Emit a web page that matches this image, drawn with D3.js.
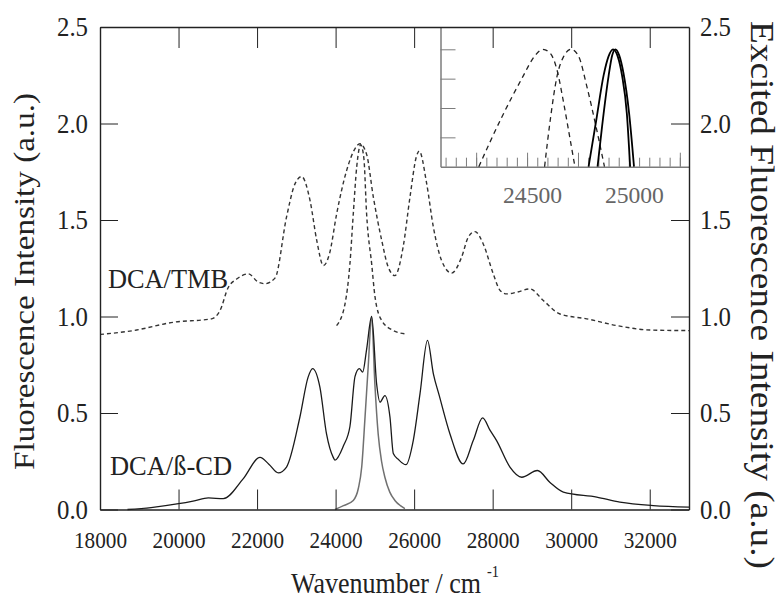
<!DOCTYPE html>
<html>
<head>
<meta charset="utf-8">
<script src="https://cdn.jsdelivr.net/npm/d3@7"></script>
<style>
  body { margin: 0; background: #fff; }
  svg { display: block; }
</style>
</head>
<body>
<svg id="chart" width="780" height="599"></svg>
<script>
// [wavenumber, intensity]
const bcdEmission = [
  [18700, 0.0], [19300, 0.01], [20000, 0.03], [20400, 0.045], [20760, 0.06], [21140, 0.056],
  [21650, 0.16], [22075, 0.27], [22300, 0.235], [22540, 0.19], [22750, 0.22], [23090, 0.478],
  [23300, 0.686], [23415, 0.73], [23600, 0.634], [23770, 0.39], [23940, 0.27], [23985, 0.256],
  [24200, 0.33], [24365, 0.43], [24495, 0.69], [24605, 0.73], [24690, 0.712], [24790, 0.83],
  [24918, 1.0], [25045, 0.65], [25130, 0.556], [25255, 0.59], [25385, 0.478], [25470, 0.29],
  [25595, 0.26], [25790, 0.232], [25980, 0.36], [26150, 0.6], [26340, 0.876], [26490, 0.703],
  [26640, 0.59], [26915, 0.39], [27250, 0.236], [27505, 0.357], [27745, 0.475], [27935, 0.41],
  [28100, 0.357], [28440, 0.22], [28740, 0.167], [29140, 0.202], [29460, 0.14], [29800, 0.09],
  [30650, 0.064], [31240, 0.038], [32090, 0.02], [33000, 0.012]
];

const bcdExcitation = [
  [23985, 0.0], [24200, 0.02], [24450, 0.047], [24580, 0.11], [24665, 0.22], [24750, 0.48],
  [24830, 0.74], [24917, 1.0], [25000, 0.65], [25085, 0.39], [25170, 0.25], [25255, 0.167],
  [25380, 0.09], [25510, 0.047], [25650, 0.02], [25765, 0.005]
];

const tmbEmission = [
  [18000, 0.907], [18850, 0.927], [19865, 0.97], [20840, 0.988], [21055, 1.03], [21265, 1.15],
  [21480, 1.194], [21775, 1.221], [22030, 1.178], [22200, 1.17], [22460, 1.2], [22750, 1.515],
  [22965, 1.687], [23135, 1.725], [23350, 1.6], [23520, 1.394], [23690, 1.264], [23850, 1.33],
  [24025, 1.53], [24280, 1.756], [24495, 1.87], [24620, 1.895], [24790, 1.84], [24960, 1.62],
  [25175, 1.394], [25340, 1.256], [25510, 1.212], [25720, 1.36], [25895, 1.62], [26060, 1.83],
  [26130, 1.857], [26320, 1.688], [26490, 1.463], [26700, 1.29], [26955, 1.225], [27210, 1.308],
  [27380, 1.412], [27550, 1.44], [27760, 1.376], [28015, 1.221], [28190, 1.135], [28360, 1.117],
  [28600, 1.125], [28950, 1.143], [29290, 1.083], [29715, 1.013], [30395, 0.988], [31160, 0.953],
  [32010, 0.93], [33000, 0.927]
];

const tmbExcitation = [
  [24025, 0.953], [24240, 1.066], [24365, 1.273], [24450, 1.531], [24540, 1.78], [24640, 1.89],
  [24720, 1.82], [24790, 1.531], [24920, 1.27], [25005, 1.1], [25175, 0.979], [25470, 0.927],
  [25765, 0.91]
];

// inset, normalised 0-0-band
const insetTmbEm = [
  [24263, 0], [24377, 0.426], [24475, 0.753], [24541, 0.951], [24577, 1.0], [24614, 0.966],
  [24647, 0.824], [24680, 0.54], [24712, 0.227], [24735, 0]
];
const insetTmbEx = [
  [24586, 0], [24614, 0.4], [24647, 0.77], [24680, 0.94], [24716, 1.0], [24753, 0.94],
  [24794, 0.68], [24835, 0.37], [24880, 0]
];
const insetBcdEm = [
  [24802, 0], [24840, 0.4], [24876, 0.78], [24900, 0.94], [24922, 1.0], [24945, 0.94],
  [24966, 0.78], [24990, 0.45], [25006, 0]
];
const insetBcdEx = [
  [24846, 0], [24868, 0.34], [24900, 0.77], [24918, 0.95], [24934, 1.0], [24952, 0.95],
  [24973, 0.8], [25001, 0.455], [25025, 0]
];

const xTicks = [18000, 20000, 22000, 24000, 26000, 28000, 30000, 32000];
const yTicks = [0, 0.5, 1.0, 1.5, 2.0, 2.5];
const insetMinor = d3.range(24100, 25300, 50);
const insetMajor = [24250, 24500, 24750, 25000, 25250];
const insetLabels = [24500, 25000];
const insetYTicks = [0.25, 0.5, 0.75, 1.0];

const plot = {left: 100, right: 689, top: 27, bottom: 509.5};
const inset = {left: 440.5, right: 689, top: 27, bottom: 166.7};
const serif = '"Liberation Serif", "Times New Roman", Times, Tinos, "Nimbus Roman", "Noto Serif", "DejaVu Serif", FreeSerif, serif';

const x = d3.scaleLinear().domain([18000, 33000]).range([plot.left, plot.right]);
const y = d3.scaleLinear().domain([0, 2.5]).range([plot.bottom, plot.top]);
const ix = d3.scaleLinear().domain([24075, 25295]).range([inset.left, inset.right]);
const iy = d3.scaleLinear().domain([0, 1.19]).range([inset.bottom, inset.top]);

const svg = d3.select('#chart').style('font-family', serif);

const line = d3.line()
    .x(d => x(d[0]))
    .y(d => y(d[1]))
    .curve(d3.curveMonotoneX);

const insetLine = d3.line()
    .x(d => ix(d[0]))
    .y(d => iy(d[1]))
    .curve(d3.curveMonotoneX);

// squeeze a text to the width it has in the figure, whatever face is picked
function fitWidth(sel, w) {
  sel.attr('textLength', w).attr('lengthAdjust', 'spacingAndGlyphs');
}

// ---- inset frame + ticks (grey)
const insetG = svg.append('g');

insetG.append('g')
    .attr('transform', `translate(0,${inset.bottom})`)
    .call(d3.axisBottom(ix).tickValues(insetMinor).tickSize(-9).tickSizeOuter(0).tickFormat(''))
    .attr('color', '#7c7c7c')
    .call(g => g.select('.domain').attr('stroke-width', 1.5));

const insetXLab = insetG.append('g')
    .attr('transform', `translate(0,${inset.bottom})`)
    .call(d3.axisBottom(ix).tickValues(insetMajor).tickSize(-14).tickSizeOuter(0).tickPadding(20)
      .tickFormat(d => insetLabels.includes(d) ? d : ''))
    .attr('color', '#7c7c7c')
    .attr('font-family', null)
    .attr('font-size', 23);
insetXLab.select('.domain').remove();
insetXLab.selectAll('text').filter(d => insetLabels.includes(d))
    .attr('fill', '#666').attr('dx', 5).call(fitWidth, 59);

insetG.append('g')
    .attr('transform', `translate(${inset.left},0)`)
    .call(d3.axisLeft(iy).tickValues(insetYTicks).tickSize(-15).tickSizeOuter(0).tickFormat(''))
    .attr('color', '#7c7c7c')
    .call(g => g.select('.domain').attr('stroke-width', 1.5));

insetG.append('path')
    .attr('d', insetLine(insetTmbEm))
    .attr('fill', 'none').attr('stroke', '#222').attr('stroke-width', 1.3)
    .attr('stroke-dasharray', '5,4');
insetG.append('path')
    .attr('d', insetLine(insetTmbEx))
    .attr('fill', 'none').attr('stroke', '#222').attr('stroke-width', 1.3)
    .attr('stroke-dasharray', '5,4');
insetG.append('path')
    .attr('d', insetLine(insetBcdEm))
    .attr('fill', 'none').attr('stroke', '#000').attr('stroke-width', 1.8);
insetG.append('path')
    .attr('d', insetLine(insetBcdEx))
    .attr('fill', 'none').attr('stroke', '#000').attr('stroke-width', 1.8);

// ---- main curves
svg.append('path')
    .attr('d', line(tmbEmission))
    .attr('fill', 'none').attr('stroke', '#333').attr('stroke-width', 1.4)
    .attr('stroke-dasharray', '4,3');
svg.append('path')
    .attr('d', line(tmbExcitation))
    .attr('fill', 'none').attr('stroke', '#333').attr('stroke-width', 1.4)
    .attr('stroke-dasharray', '4,3');
svg.append('path')
    .attr('d', line(bcdExcitation))
    .attr('fill', 'none').attr('stroke', '#707070').attr('stroke-width', 1.5);
svg.append('path')
    .attr('d', line(bcdEmission))
    .attr('fill', 'none').attr('stroke', '#1a1a1a').attr('stroke-width', 1.3);

// ---- main axes, ticks pointing inward on all four sides
const axisColor = '#222';

const xAxis = svg.append('g')
    .attr('transform', `translate(0,${plot.bottom})`)
    .call(d3.axisBottom(x).tickValues(xTicks).tickSize(-20).tickSizeOuter(0).tickPadding(20).tickFormat(d3.format('d')))
    .attr('color', axisColor)
    .attr('font-family', null)
    .attr('font-size', 22);
xAxis.selectAll('text').attr('transform', 'scale(1,1.08)').call(fitWidth, 53);

svg.append('g')
    .attr('transform', `translate(0,${plot.top})`)
    .call(d3.axisTop(x).tickValues(xTicks).tickSize(-21).tickSizeOuter(0).tickFormat(''))
    .attr('color', axisColor);

const yLeft = svg.append('g')
    .attr('transform', `translate(${plot.left},0)`)
    .call(d3.axisLeft(y).tickValues(yTicks).tickSize(-18).tickSizeOuter(0).tickPadding(12).tickFormat(d3.format('.1f')))
    .attr('color', axisColor)
    .attr('font-family', null)
    .attr('font-size', 25);
yLeft.selectAll('text').attr('transform', 'scale(1,1.08)').call(fitWidth, 31);

const yRight = svg.append('g')
    .attr('transform', `translate(${plot.right},0)`)
    .call(d3.axisRight(y).tickValues(yTicks).tickSize(-18).tickSizeOuter(0).tickPadding(11).tickFormat(d3.format('.1f')))
    .attr('color', axisColor)
    .attr('font-family', null)
    .attr('font-size', 25);
yRight.selectAll('text').attr('transform', 'scale(1,1.08)').call(fitWidth, 31);

svg.selectAll('.domain').filter(function() { return !insetG.node().contains(this); })
    .attr('stroke-width', 1.4);

// ---- titles and series labels
svg.append('text')
    .attr('transform', 'translate(34,281.5) rotate(-90)')
    .attr('text-anchor', 'middle')
    .attr('font-size', 29)
    .attr('fill', '#222')
    .text('Fluorescence Intensity (a.u.)')
    .call(fitWidth, 377);

svg.append('text')
    .attr('transform', 'translate(751,295) rotate(90)')
    .attr('text-anchor', 'middle')
    .attr('font-size', 33)
    .attr('fill', '#222')
    .text('Excited Fluorescence Intensity (a.u.)')
    .call(fitWidth, 548);

svg.append('text')
    .attr('transform', 'translate(291,593) scale(1,1.12)')
    .attr('font-size', 27)
    .attr('fill', '#222')
    .text('Wavenumber / cm')
    .call(fitWidth, 190);
svg.append('text')
    .attr('transform', 'translate(487,577)')
    .attr('font-size', 17)
    .attr('fill', '#222')
    .text('-1')
    .call(fitWidth, 12);

svg.append('text')
    .attr('transform', 'translate(108,288.3) scale(1,1.06)')
    .attr('font-size', 26)
    .attr('fill', '#222')
    .text('DCA/TMB')
    .call(fitWidth, 120);

svg.append('text')
    .attr('transform', 'translate(110,475) scale(1,1.05)')
    .attr('font-size', 26)
    .attr('fill', '#222')
    .text('DCA/ß-CD')
    .call(fitWidth, 122);
</script>
</body>
</html>
